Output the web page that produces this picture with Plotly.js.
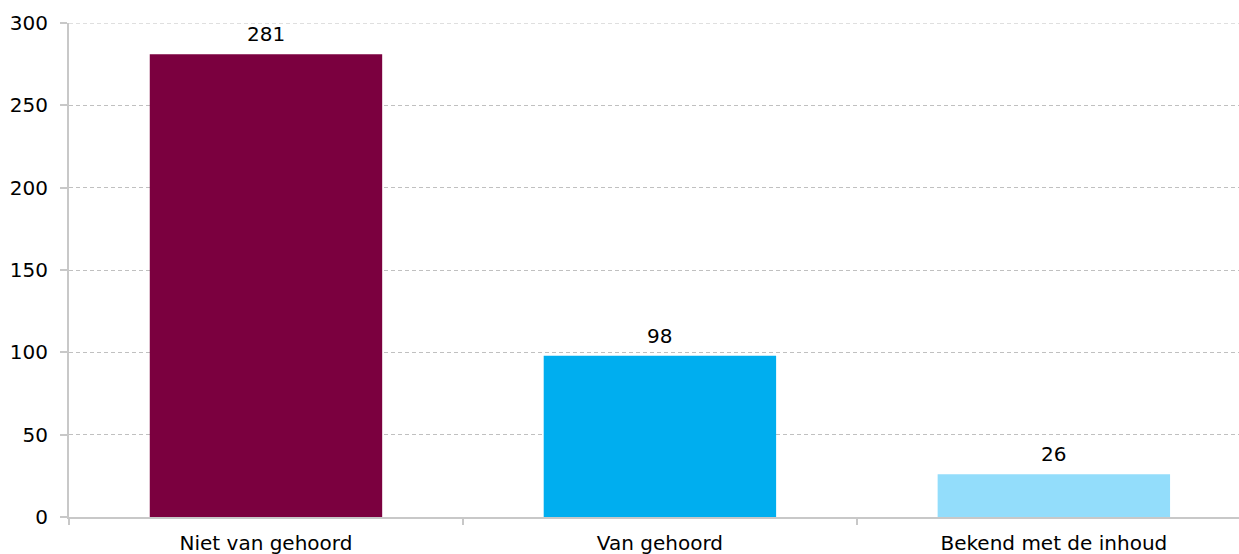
<!DOCTYPE html>
<html>
<head>
<meta charset="utf-8">
<script src="https://cdn.plot.ly/plotly-3.0.1.min.js"></script>
<style>html,body{margin:0;padding:0;overflow:hidden;background:#fff}</style>
</head>
<body>
<div id="chart" style="width:1239px;height:554px"></div>
<script>
const categories = ["Niet van gehoord", "Van gehoord", "Bekend met de inhoud"];
const values = [281, 98, 26];
const barColors = ["#7B003F", "#00AEEF", "#93DDFB"];
const yTicks = [0, 50, 100, 150, 200, 250, 300];

const font = "DejaVu Sans, Verdana, sans-serif";
const fs = 20;
const yMax = yTicks[yTicks.length - 1];

Plotly.newPlot("chart", [{
  type: "bar",
  x: categories,
  y: values,
  marker: {color: barColors},
  width: 0.59,
  hoverinfo: "x+y"
}], {
  width: 1239,
  height: 554,
  margin: {l: 69, r: 0, t: 23, b: 37},
  paper_bgcolor: "#fff",
  plot_bgcolor: "#fff",
  showlegend: false,
  font: {family: font, size: fs, color: "#000"},
  shapes: [{
    type: "line", xref: "paper", yref: "y", x0: 0, x1: 1, y0: yMax, y1: yMax,
    line: {color: "#c0c0c0", width: 1, dash: "4px,3px"}, layer: "below"
  }],
  annotations: categories.map((c, i) => ({
    x: c, y: values[i], xref: "x", yref: "y",
    text: String(values[i]), showarrow: false,
    yanchor: "bottom", yshift: 6,
    font: {family: font, size: fs, color: "#000"}
  })),
  xaxis: {
    type: "category",
    range: [-0.5, 2.47],
    showline: true,
    linecolor: "#c8c8c8",
    linewidth: 2,
    ticks: "outside",
    tickson: "boundaries",
    ticklen: 6,
    tickcolor: "#c8c8c8",
    tickwidth: 2,
    ticklabelstandoff: 7,
    showgrid: false,
    tickfont: {family: font, size: fs, color: "#000"},
    fixedrange: true
  },
  yaxis: {
    range: [0, yMax],
    tickvals: yTicks,
    showline: true,
    linecolor: "#c8c8c8",
    linewidth: 2,
    ticks: "outside",
    ticklen: 7,
    tickcolor: "#c8c8c8",
    tickwidth: 2,
    ticklabelstandoff: 8,
    showgrid: true,
    gridcolor: "#c0c0c0",
    griddash: "4px,3px",
    gridwidth: 1,
    zeroline: false,
    tickfont: {family: font, size: fs, color: "#000"},
    fixedrange: true
  }
}, {displayModeBar: false, staticPlot: true});
</script>
</body>
</html>
